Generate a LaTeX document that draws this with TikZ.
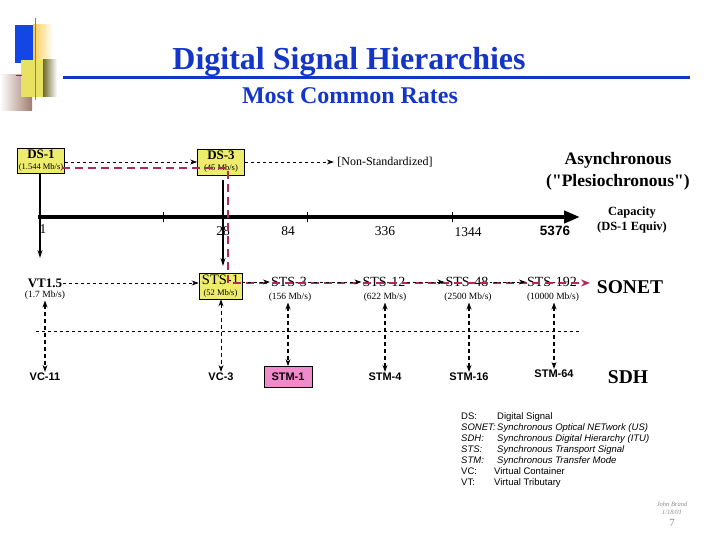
\documentclass[tikz,border=0pt]{standalone}
\usepackage{fontspec}
\setmainfont{Liberation Serif}
\setsansfont{Liberation Sans}
\usepackage{tikz}
\usetikzlibrary{arrows.meta}
\definecolor{titleblue}{HTML}{1436C8}
\definecolor{boxyellow}{HTML}{EEEC6C}
\definecolor{stmpink}{HTML}{F08ACB}
\definecolor{pathred}{HTML}{B02A56}
\definecolor{decoblue}{HTML}{1446E6}
\definecolor{decoyellow}{HTML}{E8E262}
\definecolor{decoorange}{HTML}{FFCC55}
\definecolor{decoolive}{HTML}{6E6A2E}
\definecolor{decobrown}{HTML}{A07C70}
\definecolor{footgray}{HTML}{8C8C8C}
\newcommand{\ratesize}{\fontsize{8.5}{9}\selectfont}
\tikzset{
  ratebox/.style={draw=black, fill=boxyellow, line width=0.7pt, align=center, inner sep=1pt},
  rate/.style={font=\fontsize{9.5}{10}\selectfont, inner sep=1pt},
  sts/.style={font=\fontsize{14}{15}\selectfont, inner sep=1pt},
  rawlab/.style={font=\fontsize{13}{14}\selectfont\bfseries, inner sep=1pt},
  capnum/.style={font=\fontsize{13.5}{14}\selectfont, inner sep=1pt},
  sdhlab/.style={font=\sffamily\bfseries\fontsize{11}{12}\selectfont, inner sep=1pt},
  side/.style={font=\fontsize{19.5}{22}\selectfont\bfseries},
  flow/.style={draw, dashed, line width=0.7pt, -{Stealth[length=7pt,width=5pt]}},
  drop/.style={draw, line width=1.1pt, -{Stealth[length=8pt,width=5pt]}},
  map/.style={draw, line width=1.6pt, dash pattern=on 4pt off 3pt, {Stealth[length=7pt,width=5pt]}-{Stealth[length=7pt,width=5pt]}},
  thinmap/.style={map, line width=0.8pt},
  redpath/.style={draw=pathred, line width=2pt, dash pattern=on 8pt off 5pt, -{Stealth[length=9pt,width=7pt]}},
  axisline/.style={line width=4.5pt, -{Triangle[length=16pt,width=12pt]}},
  tick/.style={line width=0.6pt},
}

\begin{document}
\begin{tikzpicture}[x=1pt,y=-1pt]
  \useasboundingbox[fill=white] (0,0) rectangle (720,540);

  % corner decoration
  \shade[left color=white, right color=decobrown] (0,75) rectangle (32,111);
  \fill[decoblue] (15,25) rectangle (33,63);
  \shade[left color=decoorange, right color=white] (33,25) rectangle (53,60);
  \fill[decoyellow] (21,60) rectangle (43,97);
  \shade[left color=decoolive, right color=white] (43,60) rectangle (57,97);
  \draw[gray, line width=1pt] (35,18) -- (35,100);
  \draw[decoblue, line width=1pt] (16,76) -- (22,76);

  % title
  \node[text=titleblue, font=\fontsize{32}{34}\selectfont\bfseries] (title) at (349,62) {Digital Signal Hierarchies};
  \node[text=titleblue, font=\fontsize{24}{26}\selectfont\bfseries] (subtitle) at (350,96) {Most Common Rates};
  \coordinate (ruleL) at (63,78);
  \coordinate (ruleR) at (690,78);
  \draw[titleblue, line width=3pt] (ruleL) -- (ruleR);

  % asynchronous rates
  \node[ratebox, minimum width=47pt, minimum height=25pt] (ds1) at (41,161)
    {\textbf{\fontsize{13}{13}\selectfont DS-1}\\[-1pt]{\ratesize(1.544 Mb/s)}};
  \node[ratebox, minimum width=47pt, minimum height=26pt] (ds3) at (221,162)
    {\textbf{\fontsize{13}{13}\selectfont DS-3}\\[-1pt]{\ratesize(45 Mb/s)}};
  \node[font=\fontsize{12}{13}\selectfont] (nonstd) at (385,162) {[Non-Standardized]};
  \node[font=\fontsize{17.5}{22}\selectfont\bfseries, align=center] (async) at (618,171)
    {Asynchronous\\(\textquotedbl Plesiochronous\textquotedbl)};
  \draw[flow] (ds1.east |- ds3) -- (ds3.west);
  \draw[flow] (ds3.east) -- (nonstd.west);

  % capacity axis
  \coordinate (axL) at (38,217);
  \coordinate (axR) at (580,217);
  \draw[axisline] (axL) -- (axR);
  \foreach \tx in {40,163,223,307,452}
    \draw[tick] (\tx,212) -- (\tx,222);
  \node[capnum] (c1) at (43,229) {1};
  \node[capnum] (c28) at (223,231) {28};
  \node[capnum] (c84) at (288,231) {84};
  \node[capnum] (c336) at (385,231) {336};
  \node[capnum] (c1344) at (468,232) {1344};
  \node[font=\sffamily\bfseries\fontsize{13.5}{14}\selectfont] (c5376) at (555,231) {5376};
  \node[font=\fontsize{12.5}{15}\selectfont\bfseries, align=center] (capacity) at (632,220)
    {Capacity\\(DS-1 Equiv)};

  % SONET row
  \node[rawlab] (vt15) at (45,283) {VT1.5};
  \node[rate] (vt15r) at (45,295) {(1.7 Mb/s)};
  \node[ratebox, minimum width=43pt, minimum height=26pt] (sts1) at (220.5,286)
    {{\fontsize{14.5}{15}\selectfont STS-1}\\[-1pt]{\ratesize(52 Mb/s)}};
  \node[sts] (sts3) at (289,282) {STS-3};
  \node[rate] (sts3r) at (290,297) {(156 Mb/s)};
  \node[sts] (sts12) at (384,282) {STS-12};
  \node[rate] (sts12r) at (385,297) {(622 Mb/s)};
  \node[sts] (sts48) at (467,282) {STS-48};
  \node[rate] (sts48r) at (468,297) {(2500 Mb/s)};
  \node[sts] (sts192) at (552,282) {STS-192};
  \node[rate] (sts192r) at (553,297) {(10000 Mb/s)};
  \node[side] (sonet) at (630,287) {SONET};

  % SDH row
  \node[sdhlab] (vc11) at (45,377) {VC-11};
  \node[sdhlab] (vc3) at (221,377) {VC-3};
  \node[sdhlab, draw=black, fill=stmpink, line width=0.7pt, minimum width=48pt, minimum height=21pt] (stm1) at (288,377) {STM-1};
  \node[sdhlab] (stm4) at (385,377) {STM-4};
  \node[sdhlab] (stm16) at (469,377) {STM-16};
  \node[sdhlab] (stm64) at (554,374) {STM-64};
  \node[side] (sdh) at (628,377) {SDH};

  % drops from the asynchronous rates
  \coordinate (ds1end) at (40,258);
  \coordinate (ds3top) at (223,180);
  \coordinate (ds3end) at (223,266);
  \draw[drop] (ds1.south -| ds1end) -- (ds1end);
  \draw[drop] (ds3top) -- (ds3end);

  % SONET / SDH divider
  \coordinate (divL) at (36,331);
  \coordinate (divR) at (580,331);
  \draw[dashed, line width=0.7pt] (divL) -- (divR);

  % mappings between SONET and SDH
  \draw[map] (vt15r.south) -- (vc11.north);
  \draw[thinmap] (sts1.south -| vc3) -- (vc3.north);
  \draw[map] (sts3r.south -| stm1) -- (stm1.north);
  \draw[map] (sts12r.south) -- (stm4.north);
  \draw[map] (sts48r.south -| stm16) -- (stm16.north);
  \draw[map] (sts192r.south -| stm64) -- (stm64.north);

  % most common path
  \coordinate (redA) at (62,168);
  \coordinate (redB) at (228,168);
  \coordinate (redC) at (228,283);
  \coordinate (redD) at (590,283);
  \draw[redpath] (redA) -- (redB) -- (redC) -- (redD);

  % SONET multiplexing
  \draw[flow] (vt15.east) -- (sts1.west |- vt15);
  \draw[flow] (sts1.east |- sts3) -- (sts3.west);
  \draw[flow] (sts3.east) -- (sts12.west);
  \draw[flow] (sts12.east) -- (sts48.west);
  \draw[flow, dash pattern=on 2.5pt off 2pt, line width=1pt] (sts48.east) -- (sts192.west);

  % legend
  \node[font=\sffamily\fontsize{9.5}{11}\selectfont, align=left, anchor=north west, inner sep=0pt] (legend) at (461,412)
    {\makebox[36pt][l]{DS:}Digital Signal\\
     \itshape\makebox[36pt][l]{SONET:}Synchronous Optical NETwork (US)\\
     \itshape\makebox[36pt][l]{SDH:}Synchronous Digital Hierarchy (ITU)\\
     \itshape\makebox[36pt][l]{STS:}Synchronous Transport Signal\\
     \itshape\makebox[36pt][l]{STM:}Synchronous Transfer Mode\\
     \makebox[33pt][l]{VC:}Virtual Container\\
     \makebox[33pt][l]{VT:}Virtual Tributary};

  % footer
  \node[text=footgray, font=\itshape\fontsize{6.5}{8}\selectfont, align=center] (author) at (672,508) {John Brand\\1/18/01};
  \node[text=footgray, font=\fontsize{11}{12}\selectfont] (page) at (672,523) {7};
\end{tikzpicture}
\end{document}
